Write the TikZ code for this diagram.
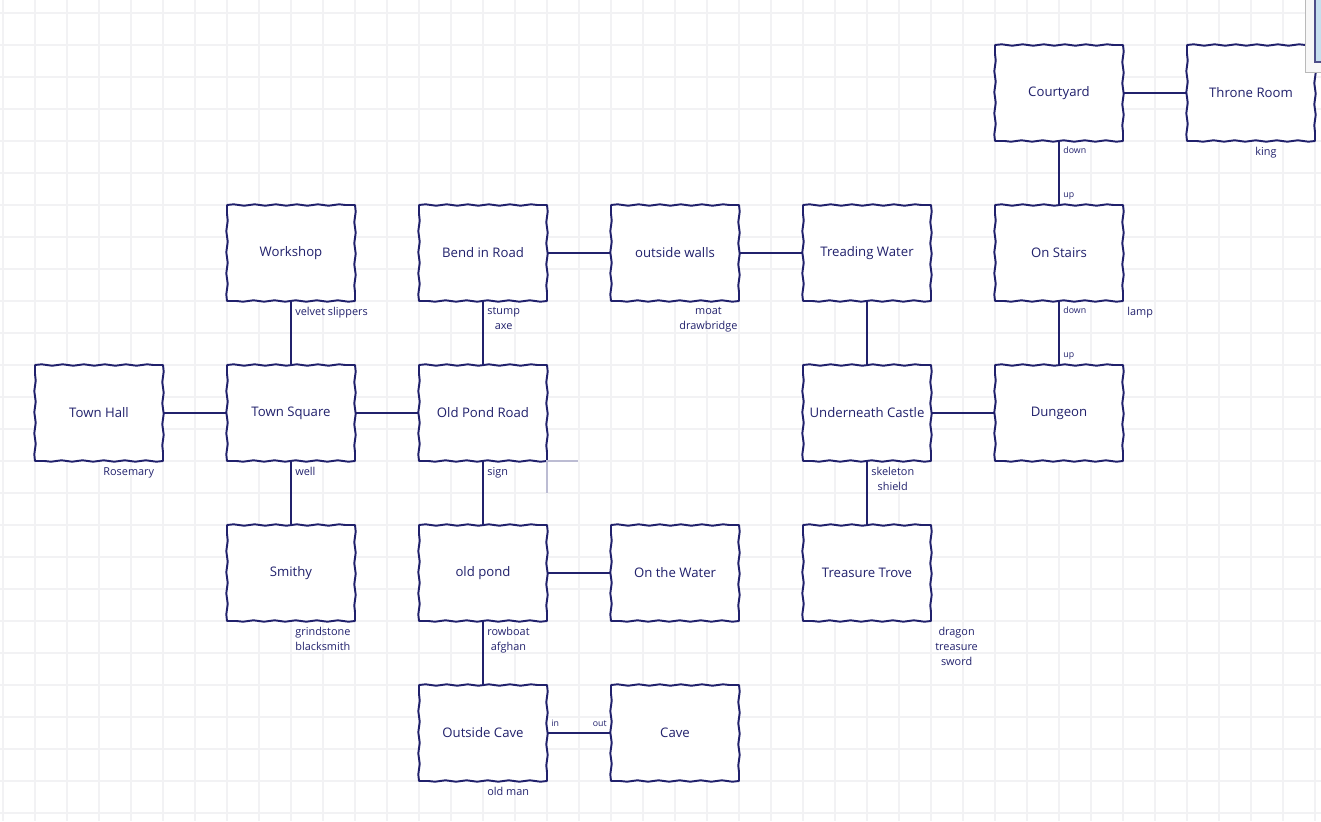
\documentclass[tikz,border=0pt]{standalone}
\usepackage{fontspec}
\setmainfont{Open Sans}
\usepackage{xcolor}
\usetikzlibrary{positioning, decorations.pathmorphing}
\definecolor{ink}{RGB}{33,33,108}
\definecolor{gridline}{RGB}{242,242,244}
\definecolor{winblue}{RGB}{198,223,238}
\tikzset{
  room/.style={fill=white, text=ink, outer sep=0pt,
    minimum width=2.56cm, minimum height=1.92cm,
    font=\fontsize{7.5}{9}\selectfont},
  wobble/.style={draw=ink, line width=1.1pt, line cap=round,
    decoration={snake, segment length=12pt, amplitude=0.4pt}},
  item/.style={text=ink, inner sep=0pt, align=center,
    font=\fontsize{6.2}{8.5}\selectfont},
  door/.style={text=ink, inner sep=0pt, font=\fontsize{5}{6}\selectfont},
  link/.style={draw=ink, line width=1.1pt},
}

\begin{document}
\begin{tikzpicture}[x=0.02cm, y=-0.02cm]
  \useasboundingbox (0,0) rectangle (1321,821);
  % grid paper
  \foreach \gx in {3,35,...,1321}
    \draw[gridline, line width=0.6pt] (\gx,0) -- (\gx,821);
  \foreach \gy in {13,45,...,821}
    \draw[gridline, line width=0.6pt] (0,\gy) -- (1321,\gy);

  % rooms
  \node[room] (courtyard) at (1059,93) {Courtyard};
  \node[room] (throne) at (1251,93) {Throne Room};
  \node[room] (workshop) at (291,253) {Workshop};
  \node[room] (bend) at (483,253) {Bend in Road};
  \node[room] (walls) at (675,253) {outside walls};
  \node[room] (treading) at (867,253) {Treading Water};
  \node[room] (stairs) at (1059,253) {On Stairs};
  \node[room] (townhall) at (99,413) {Town Hall};
  \node[room] (square) at (291,413) {Town Square};
  \node[room] (pondroad) at (483,413) {Old Pond Road};
  \node[room] (underneath) at (867,413) {Underneath Castle};
  \node[room] (dungeon) at (1059,413) {Dungeon};
  \node[room] (smithy) at (291,573) {Smithy};
  \node[room] (pond) at (483,573) {old pond};
  \node[room] (onwater) at (675,573) {On the Water};
  \node[room] (trove) at (867,573) {Treasure Trove};
  \node[room] (outcave) at (483,733) {Outside Cave};
  \node[room] (cave) at (675,733) {Cave};

  % wavy outlines
  \foreach \r in {courtyard, throne, workshop, bend, walls, treading, stairs,
      townhall, square, pondroad, underneath, dungeon, smithy, pond,
      onwater, trove, outcave, cave}
    \draw[wobble]
      decorate {(\r.north west) -- (\r.north east)}
      decorate {(\r.north east) -- (\r.south east)}
      decorate {(\r.south east) -- (\r.south west)}
      decorate {(\r.south west) -- (\r.north west)};

  % passages
  \draw[link] (courtyard) -- (throne);
  \draw[link] (courtyard) -- (stairs);
  \draw[link] (workshop) -- (square);
  \draw[link] (bend) -- (walls);
  \draw[link] (walls) -- (treading);
  \draw[link] (bend) -- (pondroad);
  \draw[link] (treading) -- (underneath);
  \draw[link] (stairs) -- (dungeon);
  \draw[link] (townhall) -- (square);
  \draw[link] (square) -- (pondroad);
  \draw[link] (underneath) -- (dungeon);
  \draw[link] (square) -- (smithy);
  \draw[link] (pondroad) -- (pond);
  \draw[link] (underneath) -- (trove);
  \draw[link] (pond) -- (onwater);
  \draw[link] (pond) -- (outcave);
  \draw[link] (outcave) -- (cave);

  % directions
  \node[door, below right=3pt and 2.3pt of courtyard.south] (cydown) {down};
  \node[door, above right=3pt and 2.3pt of stairs.north] (osup) {up};
  \node[door, below right=3pt and 2.3pt of stairs.south] (osdown) {down};
  \node[door, above right=3pt and 2.3pt of dungeon.north] (dgup) {up};
  \node[door, above right=3.5pt and 2.3pt of outcave.east] (ocin) {in};
  \node[door, above left=3.5pt and 2.3pt of cave.west] (cvout) {out};

  % items
  \node[item, below right=3.5pt and 2.3pt of throne.south] (king) {king};
  \node[item, below right=3.5pt and 2.3pt of workshop.south] (slippers) {velvet slippers};
  \node[item, below right=3.5pt and 2.3pt of bend.south] (stump) {stump\\axe};
  \node[item, below right=3.5pt and 2.3pt of walls.south] (moat) {moat\\drawbridge};
  \node[item, below right=3.5pt and 2.3pt of stairs.south east] (lamp) {lamp};
  \node[item, below right=3.5pt and 2.3pt of townhall.south] (rosemary) {Rosemary};
  \node[item, below right=3.5pt and 2.3pt of square.south] (well) {well};
  \node[item, below right=3.5pt and 2.3pt of pondroad.south] (sign) {sign};
  \node[item, below right=3.5pt and 2.3pt of underneath.south] (skeleton) {skeleton\\shield};
  \node[item, below right=3.5pt and 2.3pt of smithy.south] (grind) {grindstone\\blacksmith};
  \node[item, below right=3.5pt and 2.3pt of pond.south] (rowboat) {rowboat\\afghan};
  \node[item, below right=3.5pt and 2.3pt of trove.south east] (dragon) {dragon\\treasure\\sword};
  \node[item, below right=3.5pt and 2.3pt of outcave.south] (oldman) {old man};

  % selection marks
  \draw[ink!30, line width=0.8pt] (578,461) -- (547,461) -- (547,493);

  % window edge
  \fill[white!94!gray] (1305,0) rectangle (1321,73);
  \draw[gray!55, line width=0.6pt] (1305.5,0) -- (1305.5,72.5) -- (1321,72.5);
  \fill[winblue] (1315,0) rectangle (1321,62);
  \draw[ink!80, line width=0.6pt] (1315,0) -- (1315,62) -- (1321,62);
\end{tikzpicture}
\end{document}
